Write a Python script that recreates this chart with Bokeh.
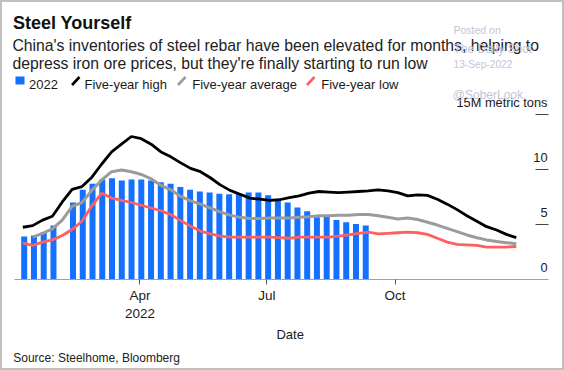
import numpy as np
import pandas as pd
from datetime import datetime, timedelta
from bokeh.plotting import figure
from bokeh.models import (Range1d, FixedTicker, Label, LabelSet, ColumnDataSource,
                          PolyAnnotation)
from bokeh.core.properties import value
from bokeh.embed import file_html
from bokeh.resources import INLINE

# ---------------- data (million metric tons) ----------------
# weekly 2022 inventories (one week missing around Lunar New Year)
bar_dates = pd.date_range("2022-01-08", periods=36, freq="7D")
bar_values = [3.9, 4.0, 4.3, 4.9, None, 7.0, 8.15, 8.7, 9.1, 9.2, 9.0, 9.1,
              9.1, 9.0, 8.85, 8.7, 8.4, 8.15, 8.0, 7.9, 7.8, 7.75, 7.8, 7.9,
              7.9, 7.65, 7.3, 7.0, 6.55, 6.2, 5.65, 5.7, 5.4, 5.2, 5.05, 4.9]

line_dates = pd.date_range("2022-01-07", "2022-12-27", periods=51)
five_year_high = [4.75, 4.9, 5.4, 5.75, 7.05, 8.2, 8.45, 9.3, 10.5, 11.6, 12.3,
                  13.0, 12.8, 12.3, 11.6, 11.15, 10.6, 10.1, 9.8, 9.25, 8.6,
                  8.1, 7.75, 7.4, 7.3, 7.2, 7.25, 7.45, 7.6, 7.85, 8.0, 7.95,
                  7.9, 7.95, 8.0, 8.05, 8.15, 8.05, 7.9, 7.6, 7.7, 7.65, 7.3,
                  6.85, 6.35, 5.8, 5.3, 4.8, 4.5, 4.1, 3.8]
five_year_avg = [None, 3.85, 4.2, 4.6, 5.4, 6.65, 7.0, 8.1, 9.05, 9.8, 9.95,
                 9.8, 9.55, 9.15, 8.55, 8.15, 7.55, 7.15, 6.85, 6.5, 6.15,
                 5.85, 5.65, 5.55, 5.55, 5.6, 5.6, 5.6, 5.65, 5.7, 5.8, 5.8,
                 5.85, 5.85, 5.9, 5.9, 5.8, 5.65, 5.5, 5.6, 5.45, 5.2, 4.95,
                 4.65, 4.35, 4.05, 3.8, 3.6, 3.45, 3.35, 3.25]
five_year_low = [3.3, 3.1, 3.4, 3.6, 4.0, 4.55, 5.3, 6.7, 7.85, 7.4, 7.2, 7.0,
                 6.75, 6.5, 6.25, 5.9, 5.35, 4.85, 4.4, 4.15, 3.95, 3.85, 3.85,
                 3.85, 3.85, 3.85, 3.8, 3.75, 3.85, 3.85, 3.85, 3.85, 3.95,
                 4.05, 4.2, 4.3, 4.15, 4.2, 4.25, 4.3, 4.25, 4.1, 3.75, 3.4,
                 3.2, 3.15, 3.1, 2.95, 2.95, 2.95, 3.0]

x_tick_dates = [datetime(2022, 4, 1), datetime(2022, 7, 1), datetime(2022, 10, 1)]
x_tick_labels = ["Apr\n2022", "Jul", "Oct"]
y_tick_values = [0, 5, 10, 15]
y_tick_labels = ["0", "5", "10", "15M metric tons"]

title = "Steel Yourself"
subtitle = ["China's inventories of steel rebar have been elevated for months, helping to",
            "depress iron ore prices, but they're finally starting to run low"]
legend_labels = ["2022", "Five-year high", "Five-year average", "Five-year low"]
x_title = "Date"
source_note = "Source: Steelhome, Bloomberg"

BLUE = "#1470ff"
BLACK = "#000000"
GRAY = "#9b9b9b"
RED = "#ff5f5f"
FONT = "Liberation Sans"

W, H = 564, 370
# ---------------- layout geometry (pixels) ----------------
X0_PX, X0_DATE, PX_PER_DAY = 23.7, datetime(2022, 1, 8), 1.394
AXIS_Y_PX, PX_PER_UNIT = 279, 11.0


def px_to_date(px):
    return X0_DATE + timedelta(days=(px - X0_PX) / PX_PER_DAY)


def ms(d):
    return pd.Timestamp(d).value / 1e6


# ---------------- figure: frame covers the whole canvas ----------------
p = figure(width=W, height=H, x_axis_type="datetime", y_axis_location="right",
           output_backend="svg", toolbar_location=None,
           min_border=0, min_border_left=0, min_border_right=0,
           min_border_top=0, min_border_bottom=0)
p.x_range = Range1d(px_to_date(0), px_to_date(W))
p.y_range = Range1d((AXIS_Y_PX - H) / PX_PER_UNIT, AXIS_Y_PX / PX_PER_UNIT)
p.outline_line_color = "#c0c0c0"
p.outline_line_width = 3
p.grid.visible = False
p.background_fill_color = "white"
p.border_fill_color = "white"

bar_src = ColumnDataSource(dict(
    x=[d for d, v in zip(bar_dates, bar_values) if v is not None],
    top=[v for v in bar_values if v is not None]))
p.vbar(x="x", top="top", bottom=0, width=4.3 * 86400000, source=bar_src,
       fill_color=BLUE, line_color=None)


def clean(vals):
    return [np.nan if v is None else v for v in vals]


p.line(line_dates, five_year_high, line_color=BLACK, line_width=2.8)
p.line(line_dates, clean(five_year_avg), line_color=GRAY, line_width=3)
p.line(line_dates, five_year_low, line_color=RED, line_width=2.8)

# x axis drawn at y = 0
xa = p.xaxis[0]
xa.fixed_location = 0
xa.bounds = (ms(px_to_date(14)), ms(px_to_date(548)))
tick_ms = [ms(d) for d in x_tick_dates]
xa.ticker = FixedTicker(ticks=tick_ms)
xa.major_label_overrides = {t: lab for t, lab in zip(tick_ms, x_tick_labels)}
xa.minor_tick_line_color = None
xa.major_tick_out = 5
xa.major_tick_in = 0
xa.major_tick_line_color = "#555555"
xa.axis_line_color = "#a0a0a0"
xa.major_label_standoff = 3
xa.major_label_text_font = FONT
xa.major_label_text_font_size = "13.5px"
xa.major_label_text_color = "#1a1a1a"

# y axis (right edge of the plot area): inward ticks, labels above the ticks
ya = p.yaxis[0]
ya.fixed_location = ms(px_to_date(548))
ya.ticker = FixedTicker(ticks=y_tick_values[1:])
ya.major_label_overrides = {t: "" for t in y_tick_values}
ya.major_label_standoff = 0
ya.major_tick_in = 13
ya.major_tick_out = 0
ya.minor_tick_line_color = None
ya.axis_line_color = None
ya.major_tick_line_color = "#444444"

ylab_src = ColumnDataSource(dict(y=y_tick_values, text=y_tick_labels))
p.add_layout(LabelSet(x=547, y="y", text="text", source=ylab_src,
                      x_units="screen", y_offset=7.5, text_align="right",
                      text_baseline="alphabetic", text_font=value(FONT),
                      text_font_size="12.8px", text_color="#1a1a1a"))


def lab(text, x, y_top, size, color="#1a1a1a", style="normal", align="left"):
    # x, y_top: position measured from the top-left of the canvas
    p.add_layout(Label(x=x, y=H - y_top, x_units="screen", y_units="screen",
                       text=text, text_font=FONT, text_font_size=size,
                       text_color=color, text_font_style=style,
                       text_align=align, text_baseline="alphabetic"))


lab(title, 12.4, 22.7, "18px", "#111111", "bold")
lab(subtitle[0], 11.9, 45, "15.75px", "#222222")
lab(subtitle[1], 11.9, 63, "15.75px", "#222222")

# legend
for text, x in zip(legend_labels, [28.5, 84, 191.7, 320.7]):
    lab(text, x, 84, "13px", "#1a1a1a")
p.add_layout(PolyAnnotation(xs=[15, 24, 24, 15], ys=[H - 76, H - 76, H - 84, H - 84],
                            xs_units="screen", ys_units="screen",
                            fill_color=BLUE, fill_alpha=1, line_color=None))
for x0, col in [(71.5, BLACK), (177.5, GRAY), (306.5, RED)]:
    p.add_layout(PolyAnnotation(xs=[x0, x0 + 7.5], ys=[H - 84.5, H - 76.5],
                                xs_units="screen", ys_units="screen",
                                fill_alpha=0, line_color=col, line_alpha=1,
                                line_width=2.6))

lab(x_title, 289.7, 334, "13px", "#1a1a1a", align="center")
lab(source_note, 12.7, 357.5, "12px", "#222222")

# watermark of the reposting site
WM = "#c4c4d8"
lab("Posted on", 453, 29, "10.5px", WM)
lab("The Daily Shot", 453, 48.3, "12px", WM)
lab("13-Sep-2022", 453, 64, "10.2px", WM)
lab("@SoberLook", 452.3, 94, "12px", WM)

open("out.html", "w").write(file_html(p, INLINE))
